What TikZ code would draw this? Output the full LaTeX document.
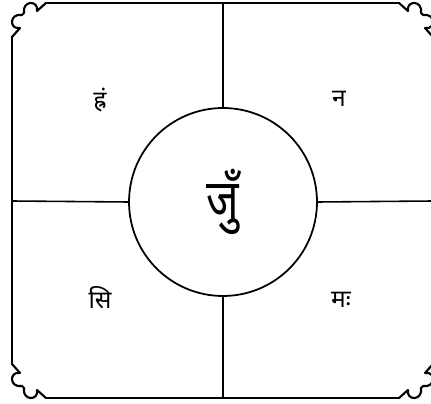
\documentclass[tikz,border=0pt]{standalone}
\usepackage{fontspec}
\usepackage{graphicx}
\newfontfamily\devafont[Script=Devanagari]{Noto Sans}

\tikzset{
  frame/.style={line width=1.2pt, line cap=round, line join=round},
  spoke/.style={line width=0.9pt},
  bija/.style={font=\devafont\fontsize{14}{14}\selectfont, inner sep=0pt}
}
% one scalloped corner, drawn at the corner of the frame
\newcommand\cornerlobes{%
  \draw[frame] (0,34) -- (8,25) .. controls (-3,27) and (-3,10) .. (10,12)
    -- (12,10) .. controls (10,-3) and (27,-3) .. (25,8) -- (34,0);}

\begin{document}
\begin{tikzpicture}[x=0.02cm, y=-0.02cm]
    \clip (0,0) rectangle (431,404);

    \foreach \cx/\cy/\sx/\sy in {12/3/1/1, 433/3/-1/1, 12/398/1/-1, 433/398/-1/-1}
      \begin{scope}[shift={(\cx,\cy)}, xscale=\sx, yscale=\sy]
        \cornerlobes
      \end{scope};

    \draw[frame] (46,3) -- (399,3);
    \draw[frame] (46,398) -- (399,398);
    \draw[frame] (12,37) -- (12,364);
    \draw[frame] (433,37) -- (433,364);

    \node[circle, draw, line width=1pt, minimum size=3.76cm, inner sep=0pt,
          font=\devafont\fontsize{32}{32}\selectfont] (hub) at (223,202)
          {\scalebox{0.78}[1]{जुँ}};

    \coordinate (top) at (223,3);
    \coordinate (bottom) at (223,398);
    \coordinate (left) at (12,201);
    \coordinate (right) at (433,201);
    \draw[spoke] (hub.north) -- (top);
    \draw[spoke] (hub.south) -- (bottom);
    \draw[spoke] (hub.west) -- (left);
    \draw[spoke] (hub.east) -- (right);

    \node[bija] (hram) at (100,100) {ह्रं};
    \node[bija] (na) at (339,99) {न};
    \node[bija] (si) at (100,298) {सि};
    \node[bija] (mah) at (341,300) {मः};
\end{tikzpicture}
\end{document}
